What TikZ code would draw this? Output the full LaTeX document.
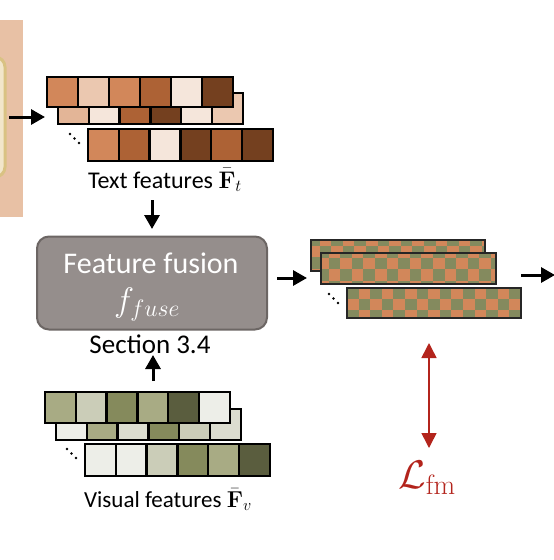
\RequirePackage{fix-cm}
\documentclass[tikz,border=0pt]{standalone}
\usepackage[no-math]{fontspec}
\setmainfont{Carlito}
\usetikzlibrary{arrows.meta}
\definecolor{peach}{HTML}{E8C1A5}
\definecolor{creamfill}{HTML}{F2E6CB}
\definecolor{creamedge}{HTML}{D9C283}
\definecolor{ta}{HTML}{D2875A}
\definecolor{tb}{HTML}{EBC8B0}
\definecolor{tc}{HTML}{AD6235}
\definecolor{td}{HTML}{F5E6DB}
\definecolor{te}{HTML}{74401F}
\definecolor{tf}{HTML}{E3B597}
\definecolor{va}{HTML}{A8AB84}
\definecolor{vb}{HTML}{CBCDB8}
\definecolor{vc}{HTML}{858A5C}
\definecolor{vd}{HTML}{5A5D3E}
\definecolor{ve}{HTML}{EDEEE8}
\definecolor{vf}{HTML}{DCDDD0}
\definecolor{orng}{HTML}{D2875A}
\definecolor{grn}{HTML}{848A5E}
\definecolor{fusefill}{HTML}{958E8C}
\definecolor{fuseedge}{HTML}{6C6664}
\definecolor{lossred}{HTML}{B3241C}
\newcommand{\fxrow}[5]{%
  \foreach \c [count=\i from 0] in {#5} {\draw[cellbox,fill=\c] ({#1+\i*#3},#2) rectangle ++(#3,#4);}}
\newcommand{\chkrow}[6]{%
  \begin{scope}
    \clip (#1,#2) rectangle ++(#3,#4);
    \fill[orng] (#1,#2) rectangle ++(#3,#4);
    \foreach \j in {0,...,3} {\foreach \i in {0,...,8} {%
      \fill[grn] ({#1+#5+(2*\i+mod(\j,2))*11.6},{#2+#6+\j*11.6}) rectangle ++(11.6,11.6);}}
  \end{scope}
  \draw[chkedge] (#1,#2) rectangle ++(#3,#4);}
\newcommand{\dotsdiag}[2]{%
  \fill (#1,#2) circle (1.4);
  \fill ({#1+4.5},{#2+4.5}) circle (1.4);
  \fill ({#1+9},{#2+9}) circle (1.4);}
\begin{document}
\begin{tikzpicture}[x=1pt,y=-1pt,
  cellbox/.style={draw=black,line width=2.4pt},
  chkedge/.style={draw=black!85,line width=2pt},
  arr/.style={draw=black,line width=3pt,-{Triangle[length=14pt,width=15pt]}},
  lossarr/.style={draw=lossred,line width=1.6pt,{Triangle[length=15pt,width=15pt]}-{Triangle[length=15pt,width=15pt]}},
  lbl/.style={font=\fontsize{24}{27}\selectfont,inner sep=0pt},
  fusebox/.style={draw=fuseedge,fill=fusefill,line width=2pt,rounded corners=12pt,minimum width=230pt,minimum height=93pt,inner sep=0pt}]
\useasboundingbox (0,0) rectangle (554,560);
\clip (0,0) rectangle (554,560);
% left panel
\fill[peach] (0,20) rectangle (23,217);
\draw[creamedge,fill=creamfill,line width=3pt,rounded corners=10pt] (-40,57) rectangle (5,177);
% text feature rows
\fxrow{58}{93}{30.8}{31}{tf,td,tc,te,td,tb}
\fxrow{47}{77}{31}{30}{ta,tb,ta,tc,td,te}
\fxrow{88}{129}{30.8}{32}{ta,tc,td,te,tc,te}
\dotsdiag{70}{134}
\node[lbl,anchor=base] (tlabel) at (165,188) {Text features $\bar{\mathbf{F}}_t$};
% visual feature rows
\fxrow{56}{409}{30.8}{31}{ve,va,vf,vc,vb,vf}
\fxrow{45}{392}{30.8}{31}{va,vb,vc,va,vd,ve}
\fxrow{85}{444}{30.8}{32}{ve,ve,vb,vc,va,vd}
\dotsdiag{67}{449}
\node[lbl,anchor=base,font=\fontsize{23}{26}\selectfont] (vlabel) at (168,507) {Visual features $\bar{\mathbf{F}}_v$};
% fusion box
\node[fusebox] (fuse) at (152,283) {};
\node[font=\fontsize{30}{33}\selectfont,text=white,anchor=base,inner sep=0pt] (fusetxt) at (151,273) {Feature fusion};
\node[font=\fontsize{34}{37}\selectfont,text=white,anchor=base,inner sep=0pt] (fusemath) at (147,311) {$f_{fuse}$};
\node[font=\fontsize{27}{30}\selectfont,anchor=base,inner sep=0pt] (sect) at (150,353) {Section 3.4};
% checker rows
\chkrow{311}{240}{174}{31}{-3}{-6}
\chkrow{321}{253}{175}{31}{-4}{-7}
\chkrow{347}{288}{174}{30}{0}{-1}
\dotsdiag{329}{294}
% arrows
\coordinate (inA) at (9,117);
\coordinate (inB) at (45,117);
\draw[arr] (inA) -- (inB);
\coordinate (tdA) at (152,200);
\coordinate (tdB) at (152,229);
\draw[arr] (tdA) -- (tdB);
\coordinate (vuA) at (153,381);
\coordinate (vuB) at (153,355);
\draw[arr] (vuA) -- (vuB);
\coordinate (fuA) at (277,278);
\coordinate (fuB) at (307,278);
\draw[arr] (fuA) -- (fuB);
\coordinate (outA) at (521,275);
\coordinate (outB) at (555,275);
\draw[arr] (outA) -- (outB);
% loss
\coordinate (lossA) at (429,343);
\coordinate (lossB) at (429,448);
\draw[lossarr] (lossA) -- (lossB);
\node[text=lossred,font=\fontsize{40}{44}\selectfont,anchor=base,inner sep=0pt] (loss) at (427,488) {$\mathcal{L}_{\mathrm{fm}}$};
\end{tikzpicture}
\end{document}
